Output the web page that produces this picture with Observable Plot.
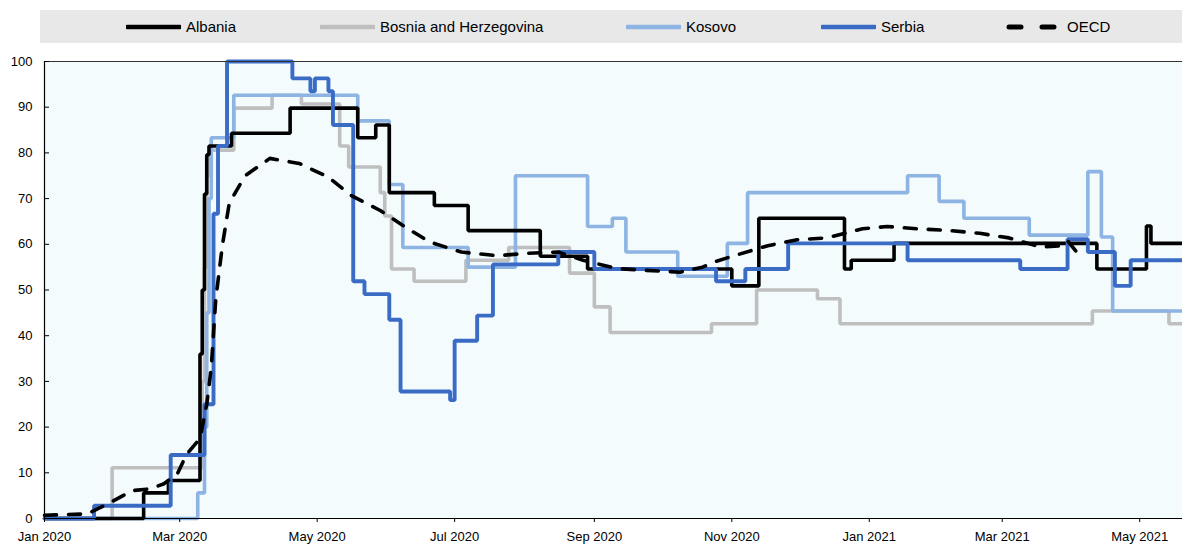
<!DOCTYPE html>
<html>
<head>
<meta charset="utf-8">
<script src="https://cdn.jsdelivr.net/npm/d3@7"></script>
<script src="https://cdn.jsdelivr.net/npm/@observablehq/plot@0.6"></script>
<style>
  body { margin: 0; background: #ffffff; font-family: "Liberation Sans", Arial, sans-serif; }
  #legend { position: relative; width: 1182px; height: 45px; }
  #legend .bar { position: absolute; left: 40px; top: 10px; width: 1142px; height: 33px; background: #E8E8E8; }
  #legend .item { position: absolute; top: 10px; height: 33px; display: flex; align-items: center; font-size: 15px; color: #000; }
  #legend svg { display: block; margin-right: 5px; }
  #chart svg { display: block; }
</style>
</head>
<body>
<div id="legend"><div class="bar"></div></div>
<div id="chart"></div>
<script>
// ---- Data (step change points: [date, stringency index]) ----
const albania = [
  ["2020-01-01", 0], ["2020-02-14", 5.6], ["2020-02-25", 8.3], ["2020-03-10", 36],
  ["2020-03-11", 50], ["2020-03-12", 71], ["2020-03-13", 79.6], ["2020-03-14", 81.5],
  ["2020-03-24", 84.3], ["2020-04-19", 89.8], ["2020-05-19", 83.3], ["2020-05-27", 86.1],
  ["2020-06-02", 71.3], ["2020-06-22", 68.5], ["2020-07-07", 63], ["2020-08-08", 57.4],
  ["2020-08-29", 54.6], ["2020-11-01", 50.9], ["2020-11-13", 65.7], ["2020-12-21", 54.6],
  ["2020-12-24", 56.5], ["2021-01-12", 60.2], ["2021-04-12", 54.6], ["2021-05-04", 64],
  ["2021-05-06", 60.2], ["2021-05-20", 60.2]
];
const bosnia = [
  ["2020-01-01", 0], ["2020-01-31", 11.1], ["2020-03-11", 30], ["2020-03-12", 55],
  ["2020-03-13", 75], ["2020-03-14", 80.6], ["2020-03-25", 89.8], ["2020-04-11", 92.6],
  ["2020-04-24", 90.7], ["2020-05-11", 81.5], ["2020-05-15", 76.9], ["2020-05-29", 71.3],
  ["2020-05-31", 66.2], ["2020-06-03", 54.6], ["2020-06-13", 51.9], ["2020-07-06", 56.5],
  ["2020-07-25", 59.3], ["2020-08-21", 53.7], ["2020-09-01", 46.3], ["2020-09-08", 40.7],
  ["2020-10-23", 42.6], ["2020-11-12", 50], ["2020-12-09", 48.1], ["2020-12-19", 42.6],
  ["2021-04-10", 45.4], ["2021-05-14", 42.6], ["2021-05-20", 42.6]
];
const kosovo = [
  ["2020-01-01", 0], ["2020-03-09", 5.6], ["2020-03-12", 20], ["2020-03-13", 45],
  ["2020-03-14", 70], ["2020-03-15", 83.3], ["2020-03-25", 92.6], ["2020-05-19", 87],
  ["2020-06-02", 73.1], ["2020-06-08", 59.3], ["2020-07-07", 55], ["2020-07-28", 75],
  ["2020-08-29", 63.9], ["2020-09-09", 65.7], ["2020-09-15", 58.3], ["2020-10-08", 53],
  ["2020-10-30", 60.2], ["2020-11-08", 71.3], ["2021-01-18", 75], ["2021-02-01", 69.4],
  ["2021-02-12", 65.7], ["2021-03-13", 62], ["2021-04-08", 75.9], ["2021-04-14", 61.6],
  ["2021-04-19", 45.4], ["2021-05-20", 45.4]
];
const serbia = [
  ["2020-01-01", 0], ["2020-01-23", 2.8], ["2020-02-26", 13.9], ["2020-03-12", 25],
  ["2020-03-16", 66.7], ["2020-03-18", 81.5], ["2020-03-22", 100], ["2020-04-20", 96.3],
  ["2020-04-28", 93.5], ["2020-04-30", 96.3], ["2020-05-06", 93.5], ["2020-05-08", 86.1],
  ["2020-05-17", 51.9], ["2020-05-22", 49.1], ["2020-06-02", 43.5], ["2020-06-07", 27.8],
  ["2020-06-29", 25.9], ["2020-07-01", 38.9], ["2020-07-11", 44.4], ["2020-07-18", 55.6],
  ["2020-08-16", 58.3], ["2020-09-01", 54.6], ["2020-10-25", 51.9], ["2020-11-07", 54.6],
  ["2020-11-26", 60.2], ["2021-01-18", 56.5], ["2021-03-09", 54.6], ["2021-03-30", 61.1],
  ["2021-04-08", 58.3], ["2021-04-20", 50.9], ["2021-04-27", 56.5], ["2021-05-20", 56.5]
];
const oecd = [
  ["2020-01-01", 0.7], ["2020-01-20", 1.0], ["2020-01-29", 3.2], ["2020-02-09", 6.1],
  ["2020-02-17", 6.5], ["2020-02-23", 7.6], ["2020-02-29", 9.8], ["2020-03-04", 14],
  ["2020-03-10", 17.5], ["2020-03-13", 25], ["2020-03-15", 33], ["2020-03-17", 48],
  ["2020-03-20", 60], ["2020-03-23", 69], ["2020-03-30", 75], ["2020-04-10", 78.8],
  ["2020-04-23", 77.7], ["2020-05-06", 74.7], ["2020-05-16", 70.7], ["2020-05-29", 67.4],
  ["2020-06-10", 63.5], ["2020-06-20", 60.5], ["2020-07-04", 58.3], ["2020-07-20", 57.5],
  ["2020-08-01", 58], ["2020-08-16", 58.3], ["2020-08-27", 56.5], ["2020-09-11", 54.7],
  ["2020-09-24", 54.3], ["2020-10-09", 53.9], ["2020-10-19", 55], ["2020-10-24", 56.1],
  ["2020-11-02", 57.5], ["2020-11-17", 59.7], ["2020-11-30", 61], ["2020-12-13", 61.4],
  ["2020-12-25", 62.9], ["2020-12-29", 63.4], ["2021-01-09", 63.9], ["2021-01-22", 63.4],
  ["2021-02-06", 63], ["2021-02-19", 62.4], ["2021-03-04", 61.4], ["2021-03-18", 59.4],
  ["2021-03-27", 59.7], ["2021-03-30", 60.8], ["2021-04-03", 58.3]
];
const seriesNames = ["Albania", "Bosnia and Herzegovina", "Kosovo", "Serbia", "OECD"];
const seriesColors = ["#000000", "#BFBFBF", "#8DB4E2", "#3A6CC6", "#000000"];
const xDomain = ["2020-01-01", "2021-05-20"];
const xTicks = ["2020-01-01", "2020-03-01", "2020-05-01", "2020-07-01", "2020-09-01",
                "2020-11-01", "2021-01-01", "2021-03-01", "2021-05-01"];
const yTicks = [0, 10, 20, 30, 40, 50, 60, 70, 80, 90, 100];

// ---- Build ----
const toRows = pts => pts.map(([d, v]) => ({date: new Date(d), value: v}));
const rows = {
  "Albania": toRows(albania),
  "Bosnia and Herzegovina": toRows(bosnia),
  "Kosovo": toRows(kosovo),
  "Serbia": toRows(serbia),
  "OECD": toRows(oecd)
};
const color = name => seriesColors[seriesNames.indexOf(name)];
const fmt = d3.utcFormat("%b %Y");

const stepLine = (name, w) => Plot.line(rows[name], {
  x: "date", y: "value", curve: "step-after",
  stroke: color(name), strokeWidth: w, strokeLinejoin: "miter"
});

const chart = Plot.plot({
  width: 1182,
  height: 500,
  marginTop: 16,
  marginBottom: 27,
  marginLeft: 44,
  marginRight: 0,
  style: {fontFamily: "'Liberation Sans', Arial, sans-serif", fontSize: "13px", color: "#000", background: "transparent"},
  x: {type: "utc", domain: xDomain.map(d => new Date(d)), label: null},
  y: {domain: [0, 100], label: null},
  marks: [
    Plot.frame({fill: "#F3FBFD", stroke: null}),
    stepLine("Bosnia and Herzegovina", 3.6),
    stepLine("Kosovo", 3.6),
    stepLine("Albania", 3.6),
    stepLine("Serbia", 3.9),
    Plot.line(rows["OECD"], {x: "date", y: "value", stroke: color("OECD"), strokeWidth: 3.6,
      strokeDasharray: "12,12", strokeLinecap: "round", curve: "linear"}),
    Plot.ruleY([100], {stroke: "#333", strokeWidth: 1}),
    Plot.ruleY([0], {stroke: "#000", strokeWidth: 1.2}),
    Plot.ruleX([new Date(xDomain[0])], {stroke: "#000", strokeWidth: 1.2}),
    Plot.axisY(yTicks, {tickSize: 0, tickPadding: 12, fill: "#000", label: null}),
    Plot.axisY(yTicks, {tickSize: -5, text: null, stroke: "#000", label: null}),
    Plot.axisX(xTicks.map(d => new Date(d)), {tickSize: 4, tickPadding: 9, tickFormat: fmt, fill: "#000", stroke: "#000", label: null})
  ]
});
document.getElementById("chart").appendChild(chart);

// ---- Legend ----
const legendPos = [126, 320, 626, 821, 1006];
const legend = document.getElementById("legend");
seriesNames.forEach((name, i) => {
  const item = document.createElement("div");
  item.className = "item";
  item.style.left = legendPos[i] + "px";
  const dashed = name === "OECD";
  const w = dashed ? 56 : 55;
  item.innerHTML = `<svg width="${w}" height="10"><line x1="${dashed ? 3 : 1}" y1="5" x2="${w - (dashed ? 3 : 1)}" y2="5" stroke="${color(name)}" stroke-width="${dashed ? 5 : 4.5}" ${dashed ? 'stroke-dasharray="12,21" stroke-linecap="round"' : 'stroke-linecap="round"'}/></svg><span>${name}</span>`;
  legend.appendChild(item);
});
</script>
</body>
</html>
